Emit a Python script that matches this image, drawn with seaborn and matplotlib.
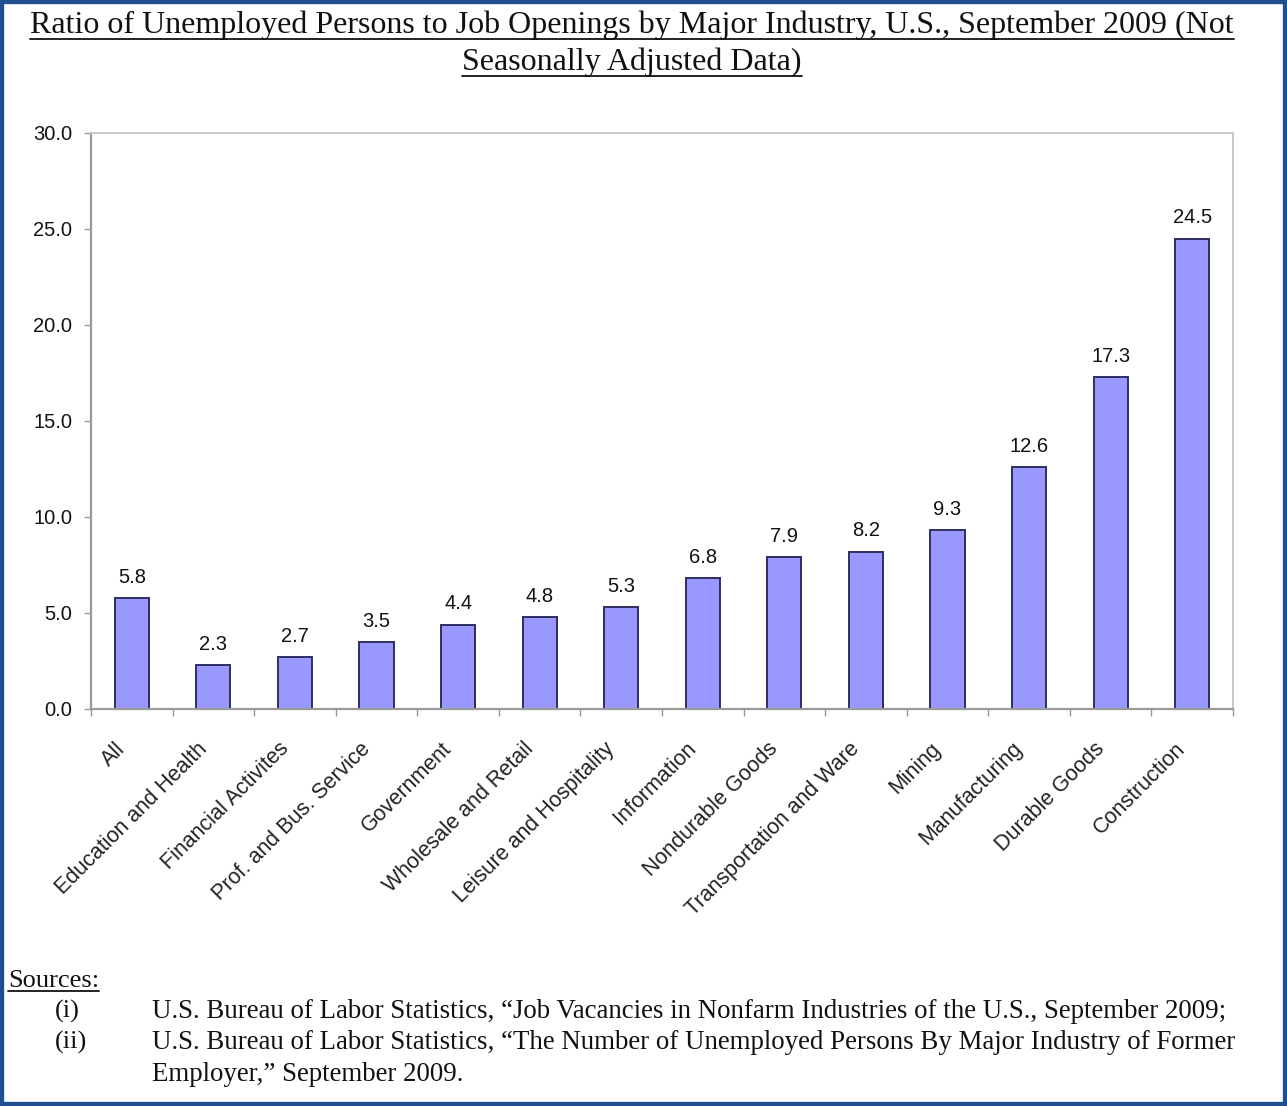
import matplotlib
matplotlib.use("Agg")
import matplotlib.pyplot as plt
import matplotlib.transforms as mtransforms
from matplotlib.lines import Line2D
from matplotlib.patches import Rectangle
import seaborn as sns
import pandas as pd

categories = ["All", "Education and Health", "Financial Activites", "Prof. and Bus. Service",
              "Government", "Wholesale and Retail", "Leisure and Hospitality", "Information",
              "Nondurable Goods", "Transportation and Ware", "Mining", "Manufacturing",
              "Durable Goods", "Construction"]
values = [5.8, 2.3, 2.7, 3.5, 4.4, 4.8, 5.3, 6.8, 7.9, 8.2, 9.3, 12.6, 17.3, 24.5]
y_ticks = [0, 5, 10, 15, 20, 25, 30]

title_lines = ["Ratio of Unemployed Persons to Job Openings by Major Industry, U.S., September 2009 (Not",
               "Seasonally Adjusted Data)"]
sources_head = "Sources:"
source_marks = ["(i)", "(ii)", ""]
source_lines = ["U.S. Bureau of Labor Statistics, \u201cJob Vacancies in Nonfarm Industries of the U.S., September 2009;",
                "U.S. Bureau of Labor Statistics, \u201cThe Number of Unemployed Persons By Major Industry of Former",
                "Employer,\u201d September 2009."]

sns.set_theme(style="white")
plt.rcParams['font.family'] = ['Liberation Sans', 'DejaVu Sans']

W, H = 1287, 1106
fig = plt.figure(figsize=(W / 100, H / 100), dpi=100)
fig.patch.set_facecolor("white")

ax = fig.add_axes([91 / W, 1 - 709 / H, (1233 - 91) / W, (709 - 133) / H])
df = pd.DataFrame({"cat": categories, "val": values})
sns.barplot(data=df, x="cat", y="val", color="#9999ff", saturation=1, width=0.42,
            edgecolor="#2e2e60", linewidth=1.4, ax=ax)

ax.set_xlim(-0.5, len(categories) - 0.5)
ax.set_ylim(0, 30)
ax.set_yticks(y_ticks)
ax.set_yticklabels([f"{v:.1f}" for v in y_ticks], fontsize=14.5, color="#111111")
ax.set_xlabel("")
ax.set_ylabel("")

for bars in ax.containers:
    ax.bar_label(bars, fmt="%.1f", padding=8, fontsize=14.5, color="#111111")

# x labels at centers, tick marks at boundaries
ax.set_xticks(range(len(categories)))
ax.set_xticklabels(categories, rotation=45, ha="right", va="top", rotation_mode="anchor",
                   fontsize=15.5, color="#222222")
ax.tick_params(axis="x", which="major", length=0, pad=21)
ax.set_xticks([i + 0.5 for i in range(-1, len(categories))], minor=True)
ax.tick_params(axis="x", which="minor", length=5, color="#999999", width=1, direction="out", bottom=True)
ax.tick_params(axis="y", which="major", length=5, color="#999999", width=1, direction="out", left=True, pad=8.5)
offset = mtransforms.ScaledTranslation(-17 / 100, 0, fig.dpi_scale_trans)
for lab in ax.get_xticklabels():
    lab.set_transform(lab.get_transform() + offset)

for side in ["left", "bottom"]:
    ax.spines[side].set_color("#9a9a9a")
    ax.spines[side].set_linewidth(1.6)
for side in ["top", "right"]:
    ax.spines[side].set_visible(True)
    ax.spines[side].set_color("#c8c8c8")
    ax.spines[side].set_linewidth(1.4)
ax.grid(False)

serif = ['Liberation Serif', 'DejaVu Serif']
t1 = fig.text(632 / W, 1 - 33 / H, title_lines[0], ha="center", va="baseline",
              fontsize=23, family=serif, color="#111111")
t2 = fig.text(632 / W, 1 - 70 / H, title_lines[1], ha="center", va="baseline",
              fontsize=23, family=serif, color="#111111")
t3 = fig.text(8 / W, 1 - 987 / H, sources_head, ha="left", va="baseline",
              fontsize=19, family=serif, color="#111111")
texts_to_underline = [t1, t2, t3]

ys = [1018, 1049, 1081]
for mark, line, y in zip(source_marks, source_lines, ys):
    if mark:
        fig.text(55 / W, 1 - y / H, mark, ha="left", va="baseline", fontsize=19,
                 family=serif, color="#111111")
    fig.text(152 / W, 1 - y / H, line, ha="left", va="baseline", fontsize=19.4,
             family=serif, color="#111111")

fig.canvas.draw()
renderer = fig.canvas.get_renderer()
for t in texts_to_underline:
    bb = t.get_window_extent(renderer)
    yline = bb.y0 + 1.5
    fig.add_artist(Line2D([bb.x0 / W, bb.x1 / W], [yline / H, yline / H],
                          transform=fig.transFigure, color="#111111", lw=1.3))

fig.add_artist(Rectangle((0, 0), 1, 1, transform=fig.transFigure, fill=False,
                         edgecolor="#1f4f8f", linewidth=6, zorder=10))

fig.savefig("out.png", dpi=100, facecolor="white")
